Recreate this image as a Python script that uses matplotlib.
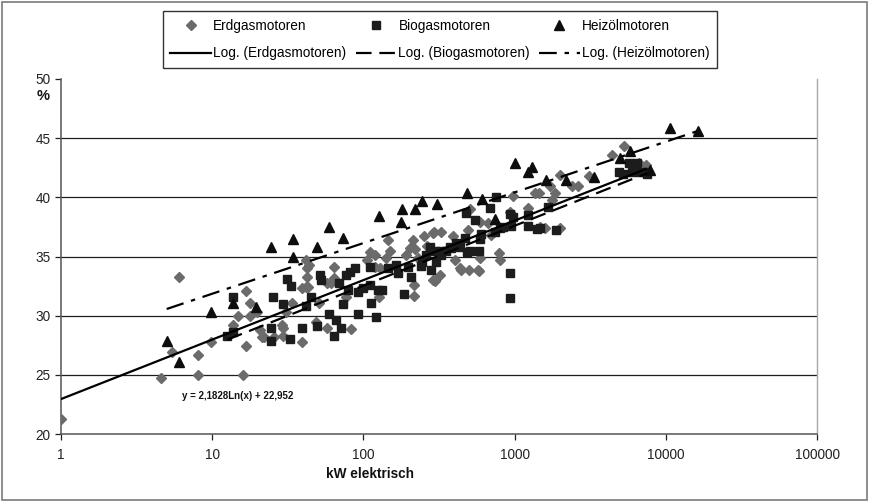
import numpy as np
import matplotlib
matplotlib.use("Agg")
import matplotlib.pyplot as plt
from matplotlib.patches import Rectangle

plt.rcParams['font.family'] = ['Liberation Sans', 'DejaVu Sans']

# ---------------- data ----------------
erdgas_kw = [1.0, 4.6, 5.4, 6.0, 8.0, 8.0, 9.8, 13.7, 14.8, 16.0, 16.7, 16.7, 17.8, 17.8,
             19.8, 20.7, 21.3, 22.0, 25.6, 28.9, 29.3, 29.3, 30.7, 33.6, 39.1, 39.1, 41.5, 41.5,
             42.2, 42.2, 42.8, 43.5, 48.3, 50.6, 57.1, 57.1, 60.7, 63.5, 63.5, 76.2, 83.4, 105,
             111, 120, 120, 129, 126, 142, 146, 151, 192, 204, 213, 220, 230, 250, 265, 217, 217,
             289, 289, 293, 321, 326, 298, 391, 403, 435, 441, 491, 498, 510, 571, 580, 589, 589,
             664, 695, 785, 797, 927, 970, 1218, 1374, 1459, 1483, 1600, 1726, 1778, 1862, 2010,
             2010, 2409, 2636, 3113, 4414, 5295, 6640, 7380]
erdgas_pct = [21.3, 24.7, 26.9, 33.3, 25.0, 26.7, 27.8, 29.2, 30.0, 25.0, 27.4, 32.1, 31.1, 30.0,
              30.3, 28.8, 28.2, 28.2, 28.2, 29.2, 28.3, 29.0, 30.3, 31.1, 27.8, 32.3, 32.4, 34.7,
              34.0, 33.3, 32.4, 34.3, 29.5, 31.1, 29.0, 32.8, 32.8, 34.1, 33.2, 31.6, 28.9, 34.7,
              35.4, 35.1, 34.1, 34.0, 31.6, 34.9, 36.4, 35.5, 35.1, 35.7, 36.4, 35.6, 34.9, 36.7, 35.9, 31.7, 32.6,
              33.0, 37.0, 37.1, 33.4, 37.1, 32.9, 36.7, 34.7, 34.0, 33.9, 37.2, 33.9, 39.0, 33.9, 33.8, 37.9, 34.9,
              37.8, 36.8, 35.3, 34.7, 38.8, 40.1, 39.1, 40.4, 40.4, 37.5, 37.4, 41.0, 39.8, 40.4, 41.9,
              37.4, 41.0, 41.0, 41.8, 43.6, 44.3, 42.9, 42.7]

biogas_kw = [12.6, 13.7, 13.7, 24.4, 24.4, 25.2, 29.3, 31.1, 32.6, 33.1, 39.1, 41.5, 44.8, 49.1,
             51.4, 52.1, 58.9, 63.5, 65.5, 68.5, 70.6, 73.8, 77.3, 79.6, 82.0, 88.5, 92.7, 92.7,
             100, 111, 111, 113, 122, 124, 133, 146, 165, 170, 186, 198, 207, 241, 244, 260, 276,
             280, 298, 302, 326, 326, 352, 374, 379, 409, 435, 469, 476, 483, 506, 546, 580, 589,
             597, 685, 738, 750, 797, 834, 927, 942, 927, 927, 970, 1218, 1218, 1416, 1483, 1675,
             1890, 4910, 5210, 5710, 5970, 6440, 6740, 7270, 7500]
biogas_pct = [28.3, 28.6, 31.6, 29.0, 27.9, 31.6, 31.0, 33.1, 28.0, 32.5, 29.0, 30.8, 31.6, 29.1,
              33.4, 33.0, 30.1, 28.3, 29.6, 32.8, 29.0, 31.0, 33.4, 32.2, 33.7, 34.0, 30.1, 32.0,
              32.3, 34.1, 32.6, 31.1, 29.9, 32.2, 32.2, 34.0, 34.3, 33.6, 31.8, 34.1, 33.3, 34.2,
              34.5, 35.1, 35.8, 33.9, 35.5, 34.5, 35.1, 35.5, 35.5, 35.8, 35.7, 36.1, 35.8, 36.6,
              38.7, 35.4, 35.5, 38.1, 35.5, 36.5, 36.9, 39.1, 37.1, 40.0, 37.4, 37.5, 38.6, 37.6,
              33.6, 31.5, 38.3, 38.5, 37.6, 37.3, 37.4, 39.2, 37.2, 42.1, 42.0, 42.9, 42.1, 42.9,
              42.1, 42.1, 42.0]

heizoel_kw = [5.0, 6.0, 9.8, 13.7, 19.5, 24.4, 34.1, 34.1, 49.1, 58.9, 73.8, 127, 176, 180, 221,
              244, 307, 483, 606, 738, 1000, 1218, 1313, 1625, 2198, 3358, 4980, 5795, 7850,
              10620, 16240]
heizoel_pct = [27.9, 26.1, 30.3, 31.1, 30.7, 35.8, 36.5, 35.0, 35.8, 37.5, 36.6, 38.4, 37.9, 39.0,
               39.0, 39.7, 39.4, 40.4, 39.9, 38.2, 42.9, 42.1, 42.6, 41.5, 41.5, 41.7, 43.3, 43.9,
               42.3, 45.9, 45.6]

# logarithmic trend coefficients  y = a*ln(x) + b
erdgas_fit = (2.1828, 22.952)
biogas_fit = (2.20, 22.40)
heizoel_fit = (1.86, 27.57)

series_names = ['Erdgasmotoren', 'Biogasmotoren', 'Heizölmotoren']
trend_names = ['Log. (Erdgasmotoren)', 'Log. (Biogasmotoren)', 'Log. (Heizölmotoren)']
equation_text = 'y = 2,1828Ln(x) + 22,952'
x_ticks = [1, 10, 100, 1000, 10000, 100000]
x_tick_labels = ['1', '10', '100', '1000', '10000', '100000']
y_ticks = [20, 25, 30, 35, 40, 45, 50]

# ---------------- figure ----------------
W, H = 869, 501
fig = plt.figure(figsize=(W / 100, H / 100), dpi=100)
fig.patch.set_facecolor('white')
fig.patches.append(Rectangle((1.5 / W, 1.5 / H), (W - 3.5) / W, (H - 3.5) / H,
                             transform=fig.transFigure, fill=False,
                             edgecolor='#7a7a7a', linewidth=1.2))

L, R, B, T = 61, 817, 434, 79
ax = fig.add_axes([L / W, 1 - B / H, (R - L) / W, (B - T) / H])
ax.set_xscale('log')
ax.set_xlim(1, 100000)
ax.set_ylim(20, 50)

for y in y_ticks[1:-1]:
    ax.axhline(y, color='#1e1e1e', lw=0.9, zorder=1)

h_e, = ax.plot(erdgas_kw, erdgas_pct, linestyle='none', marker='D', ms=5.2,
               color='#6b6b6b', mec='#6b6b6b', zorder=3)
h_b, = ax.plot(biogas_kw, biogas_pct, linestyle='none', marker='s', ms=6.3,
               color='#1c1c1c', mec='#1c1c1c', zorder=4)
h_h, = ax.plot(heizoel_kw, heizoel_pct, linestyle='none', marker='^', ms=7.0,
               color='#0d0d0d', mec='#0d0d0d', zorder=5)


def trend(xs, fit):
    xx = np.geomspace(min(xs), max(xs), 200)
    return xx, fit[0] * np.log(xx) + fit[1]


xe, ye = trend(erdgas_kw, erdgas_fit)
xb, yb = trend(biogas_kw, biogas_fit)
xh, yh = trend(heizoel_kw, heizoel_fit)
t_e, = ax.plot(xe, ye, color='black', lw=1.6, zorder=6)
t_b, = ax.plot(xb, yb, color='black', lw=1.6, linestyle=(0, (7, 3.5)), zorder=6)
t_h, = ax.plot(xh, yh, color='black', lw=1.6, linestyle=(0, (8, 3.5, 2, 3.5)), zorder=6)

ax.text(6.3, 23.2, equation_text, fontsize=7.0, fontweight='bold', ha='left', va='center',
        color='#111111', zorder=7)

ax.set_xticks(x_ticks)
ax.set_xticklabels(x_tick_labels)
ax.xaxis.set_minor_locator(matplotlib.ticker.NullLocator())
ax.set_yticks(y_ticks)
ax.set_yticklabels([str(v) for v in y_ticks])
ax.tick_params(axis='both', labelsize=9.8, colors='#222222', direction='out', length=4,
               width=0.9)
ax.tick_params(axis='x', pad=6)
ax.tick_params(axis='y', pad=3.5)

ax.spines['top'].set_visible(False)
ax.spines['right'].set_color('#a8a8a8')
ax.spines['right'].set_linewidth(1.0)
ax.spines['left'].set_color('#555555')
ax.spines['left'].set_linewidth(1.1)
ax.spines['bottom'].set_color('#555555')
ax.spines['bottom'].set_linewidth(1.1)

fig.text(370 / W, 1 - 474 / H, 'kW elektrisch', fontsize=9.8, fontweight='bold',
         ha='center', va='center', color='#111111')
fig.text(43 / W, 1 - 96 / H, '%', fontsize=10.5, fontweight='bold',
         ha='center', va='center', color='#111111')

handles = [h_e, t_e, h_b, t_b, h_h, t_h]
labels = [series_names[0], trend_names[0], series_names[1], trend_names[1],
          series_names[2], trend_names[2]]
leg = fig.legend(handles, labels, ncol=3, loc='center',
                 bbox_to_anchor=(163 / W, 1 - 66 / H, (717 - 163) / W, 53 / H),
                 mode='expand', fontsize=9.8, frameon=True, fancybox=False,
                 handlelength=3.0, handletextpad=0.15, columnspacing=0.2,
                 labelspacing=1.0, borderpad=0.55, borderaxespad=0, numpoints=1)
leg.get_frame().set_edgecolor('black')
leg.get_frame().set_linewidth(1.0)

fig.savefig('out.png', dpi=100)
